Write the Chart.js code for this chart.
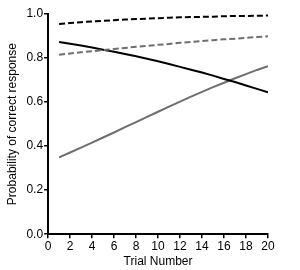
<!DOCTYPE html>
<html>
<head>
<meta charset="utf-8">
<script src="https://cdn.jsdelivr.net/npm/chart.js@4/dist/chart.umd.min.js"></script>
<style>
  html, body { margin: 0; padding: 0; background: #fff; }
  #wrap { width: 300px; height: 270px; position: relative; }
</style>
</head>
<body>
<div id="wrap"><canvas id="chart"></canvas></div>
<script>
// Trial numbers and the four fitted curves
const trials = [1, 2, 3, 4, 5, 6, 7, 8, 9, 10, 11, 12, 13, 14, 15, 16, 17, 18, 19, 20];
const blackDashed = [0.955, 0.959, 0.963, 0.966, 0.969, 0.972, 0.975, 0.977, 0.979, 0.981,
                     0.983, 0.985, 0.986, 0.987, 0.988, 0.990, 0.991, 0.991, 0.992, 0.993];
const grayDashed = [0.815, 0.821, 0.826, 0.831, 0.836, 0.841, 0.846, 0.851, 0.855, 0.860,
                    0.864, 0.869, 0.873, 0.877, 0.881, 0.885, 0.888, 0.892, 0.895, 0.899];
const blackSolid = [0.873, 0.865, 0.857, 0.848, 0.838, 0.829, 0.818, 0.808, 0.797, 0.785,
                    0.773, 0.760, 0.747, 0.734, 0.720, 0.705, 0.691, 0.675, 0.660, 0.644];
const graySolid = [0.349, 0.371, 0.393, 0.416, 0.439, 0.462, 0.486, 0.509, 0.533, 0.556,
                   0.579, 0.602, 0.625, 0.646, 0.668, 0.688, 0.708, 0.727, 0.746, 0.763];
const xTicks = [0, 2, 4, 6, 8, 10, 12, 14, 16, 18, 20];
const yTicks = [0.0, 0.2, 0.4, 0.6, 0.8, 1.0];

const font = { family: "'Liberation Sans', Arial, sans-serif", size: 12 };
const gray = '#6e6e6e';

function series(values, color, dash) {
    return {
        data: trials.map((t, i) => ({ x: t, y: values[i] })),
        borderColor: color,
        borderWidth: 2,
        borderDash: dash,
        pointRadius: 0,
        fill: false,
        tension: 0
    };
}

function axis(ticks, title) {
    return {
        type: 'linear',
        min: ticks[0],
        max: ticks[ticks.length - 1],
        afterBuildTicks: scale => { scale.ticks = ticks.map(v => ({ value: v })); },
        border: { display: true, color: '#000', width: 2 },
        grid: { drawOnChartArea: false, color: '#000', lineWidth: 1.5, tickLength: 4 },
        ticks: { color: '#000', font, padding: 1 },
        title: { display: true, text: title, color: '#000', font, padding: 0 }
    };
}

const xAxis = axis(xTicks, 'Trial Number');
const yAxis = axis(yTicks, 'Probability of correct response');
yAxis.ticks.callback = v => v.toFixed(1);
yAxis.title.padding = { top: 2, bottom: 6 };

new Chart(document.getElementById('chart'), {
    type: 'line',
    data: {
        datasets: [
            series(blackDashed, '#000', [6, 3]),
            series(grayDashed, gray, [6, 3]),
            series(blackSolid, '#000', []),
            series(graySolid, gray, [])
        ]
    },
    options: {
        responsive: true,
        maintainAspectRatio: false,
        animation: false,
        layout: { padding: { top: 14, right: 32, bottom: 1, left: 3 } },
        scales: { x: xAxis, y: yAxis },
        plugins: { legend: { display: false }, tooltip: { enabled: false } }
    }
});
</script>
</body>
</html>
